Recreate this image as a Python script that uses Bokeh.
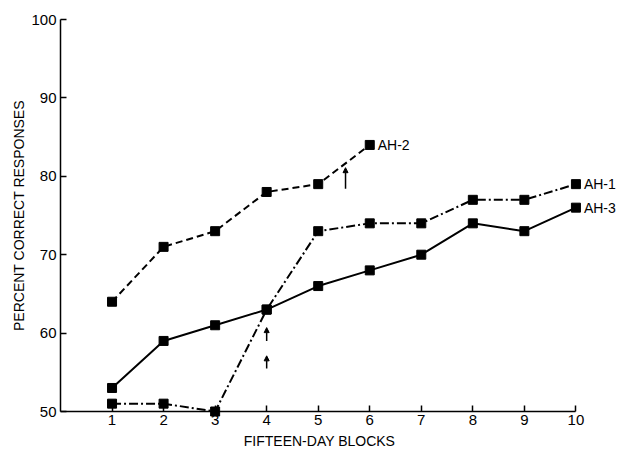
from bokeh.plotting import figure
from bokeh.models import Range1d, Arrow, NormalHead
from bokeh.embed import file_html
from bokeh.resources import INLINE
from bokeh.core.properties import value

# ---- data ----
blocks = [1, 2, 3, 4, 5, 6, 7, 8, 9, 10]
ah1 = [51, 51, 50, 63, 73, 74, 74, 77, 77, 79]
ah2_blocks = [1, 2, 3, 4, 5, 6]
ah2 = [64, 71, 73, 78, 79, 84]
ah3 = [53, 59, 61, 63, 66, 68, 70, 74, 73, 76]
x_ticks = [1, 2, 3, 4, 5, 6, 7, 8, 9, 10]
y_ticks = [50, 60, 70, 80, 90, 100]
label_names = ["AH-1", "AH-2", "AH-3"]
label_x = [10, 6, 10]
label_y = [79, 84, 76]
arrow_x = [4, 4, 5.53]
arrow_y0 = [55.5, 59.0, 78.4]
arrow_y1 = [57.1, 60.7, 81.1]

FONT = "Liberation Sans"

p = figure(width=617, height=452,
           x_range=Range1d(0, 10.05), y_range=Range1d(50, 100),
           output_backend="svg", toolbar_location=None,
           min_border_left=60, min_border_right=39,
           min_border_top=19, min_border_bottom=41)
p.outline_line_color = None
p.grid.visible = False
p.background_fill_color = "white"
p.border_fill_color = "white"

# axes
for ax in (p.xaxis[0], p.yaxis[0]):
    ax.major_tick_in = 6
    ax.major_tick_out = 0
    ax.minor_tick_line_color = None
    ax.axis_line_width = 1.5
    ax.major_tick_line_width = 1.5
    ax.axis_line_color = "black"
    ax.major_tick_line_color = "black"
    ax.major_label_text_font = FONT
    ax.major_label_text_font_size = "15px"
    ax.major_label_text_color = "black"
    ax.axis_label_text_font = FONT
    ax.axis_label_text_font_size = "14px"
    ax.axis_label_text_font_style = "normal"
    ax.axis_label_text_color = "black"

p.xaxis.ticker = x_ticks
p.xaxis.bounds = (0, 10)
p.xaxis.axis_label = "FIFTEEN-DAY BLOCKS"
p.xaxis.major_label_standoff = 3
p.xaxis.axis_label_standoff = 5

p.yaxis.ticker = y_ticks
p.yaxis.bounds = (50, 100)
p.yaxis.axis_label = "PERCENT CORRECT RESPONSES"
p.yaxis.major_label_standoff = 4
p.yaxis.axis_label_standoff = 1

# series
p.line(ah2_blocks, ah2, line_color="black", line_width=2, line_dash="7 4")
p.line(blocks, ah1, line_color="black", line_width=2, line_dash="9 3 2 3")
p.line(blocks, ah3, line_color="black", line_width=2)
for xs, ys in ((ah2_blocks, ah2), (blocks, ah1), (blocks, ah3)):
    p.scatter(xs, ys, marker="square", size=9, fill_color="black",
              line_color="black", level="overlay")

p.text(label_x, label_y, text=label_names, x_offset=8,
       text_font=value(FONT), text_font_size="14px",
       text_baseline="middle", text_align="left", text_color="black",
       level="overlay")

for ax_, y0, y1 in zip(arrow_x, arrow_y0, arrow_y1):
    p.add_layout(Arrow(end=NormalHead(size=5, fill_color="black", line_color="black"),
                       x_start=ax_, y_start=y0, x_end=ax_, y_end=y1,
                       line_color="black", line_width=1.5))

open("out.html", "w").write(file_html(p, INLINE))
